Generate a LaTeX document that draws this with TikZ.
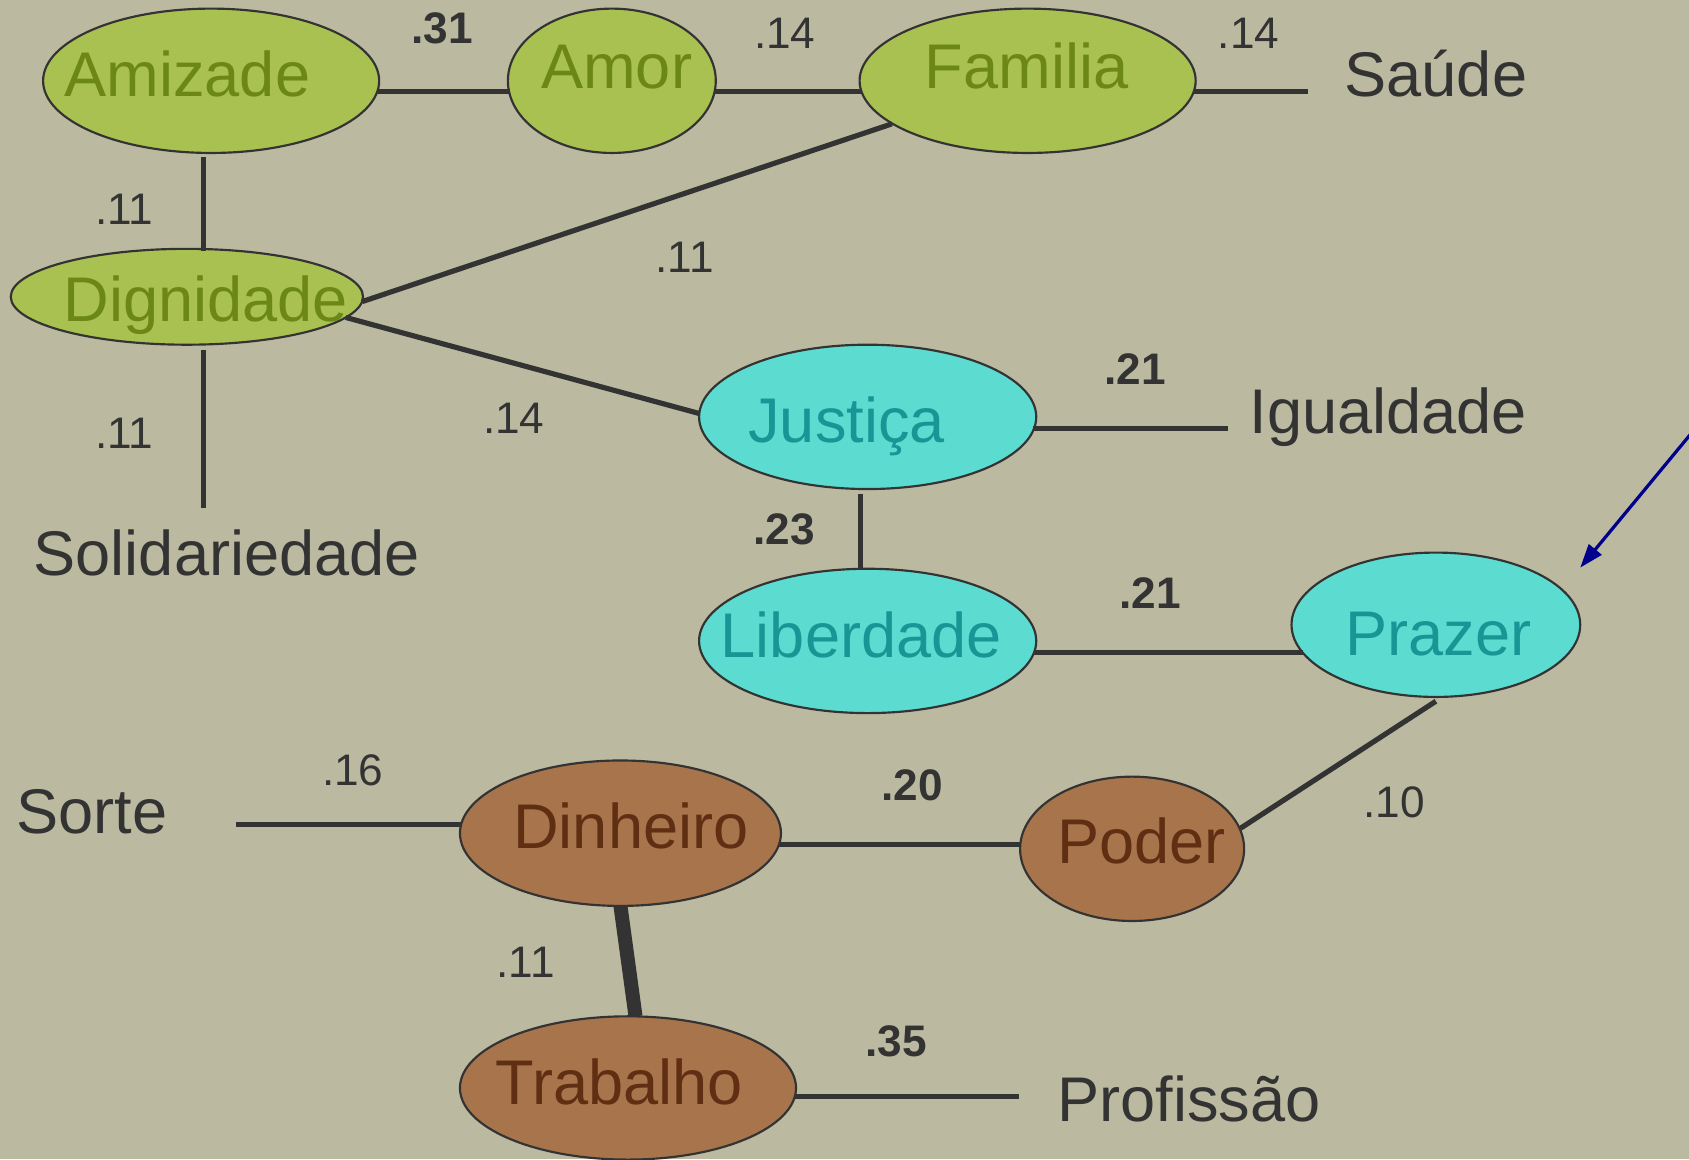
\documentclass[tikz,border=0pt]{standalone}
\usepackage{fontspec}
\setmainfont{Liberation Sans}
\usetikzlibrary{shapes.geometric,calc,arrows.meta}
\definecolor{bgc}{RGB}{187,185,159}
\definecolor{gfill}{RGB}{168,193,80}
\definecolor{gtext}{RGB}{107,135,24}
\definecolor{cfill}{RGB}{92,220,208}
\definecolor{ctext}{RGB}{24,150,150}
\definecolor{bfill}{RGB}{168,116,76}
\definecolor{btext}{RGB}{96,46,18}
\definecolor{ink}{RGB}{51,51,51}
\definecolor{arrowc}{RGB}{0,0,140}
\begin{document}
\begin{tikzpicture}[x=0.5pt,y=-0.5pt,
  ell/.style={ellipse,draw=ink,line width=1pt,inner sep=0pt,outer sep=0pt},
  gnode/.style={ell,fill=gfill},
  cnode/.style={ell,fill=cfill},
  bnode/.style={ell,fill=bfill},
  nt/.style={anchor=base,inner sep=0pt,font=\fontsize{29.3}{34}\selectfont},
  gt/.style={nt,text=gtext},
  ct/.style={nt,text=ctext},
  bt/.style={nt,text=btext},
  kt/.style={nt,text=ink},
  lab/.style={anchor=base,inner sep=0pt,text=ink,font=\fontsize{20.5}{24}\selectfont},
  blab/.style={anchor=base,inner sep=0pt,text=ink,font=\fontsize{20.5}{24}\selectfont\bfseries},
  conn/.style={draw=ink,line width=2.4pt},
]
\useasboundingbox[fill=bgc] (0,0) rectangle (1568,1076);

% ellipses
\node[gnode,minimum width=156pt,minimum height=67pt] (amizade) at (196,75) {};
\node[gnode,minimum width=96.5pt,minimum height=67pt] (amor) at (568,75) {};
\node[gnode,minimum width=156pt,minimum height=67pt] (familia) at (954,75) {};
\node[gnode,minimum width=163.5pt,minimum height=44.5pt] (dignidade) at (173.5,275.5) {};
\node[cnode,minimum width=156.5pt,minimum height=67pt] (justica) at (805.5,387) {};
\node[cnode,minimum width=156.5pt,minimum height=67pt] (liberdade) at (805.5,595) {};
\node[cnode,minimum width=134pt,minimum height=67pt] (prazer) at (1333,580) {};
\node[bnode,minimum width=149pt,minimum height=67.5pt] (dinheiro) at (576,773.5) {};
\node[bnode,minimum width=104pt,minimum height=67pt] (poder) at (1051,788) {};
\node[bnode,minimum width=156pt,minimum height=66.5pt] (trabalho) at (583,1010) {};

% node texts
\node[gt] (tamizade) at (174,90) {Amizade};
\node[gt] (tamor) at (572.5,82.4) {Amor};
\node[gt] (tfamilia) at (953,82.4) {Familia};
\node[gt] (tdignidade) at (191,298) {Dignidade};
\node[ct] (tjustica) at (786,410.5) {Justiça};
\node[ct] (tliberdade) at (799.5,610.4) {Liberdade};
\node[ct] (tprazer) at (1335.5,608.6) {Prazer};
\node[bt] (tdinheiro) at (585.7,787.7) {Dinheiro};
\node[bt] (tpoder) at (1059.8,802) {Poder};
\node[bt] (ttrabalho) at (574.8,1025) {Trabalho};

% free texts
\node[kt] (saude) at (1333,90) {Saúde};
\node[kt] (igualdade) at (1289,402.5) {Igualdade};
\node[kt] (solidariedade) at (210.5,534) {Solidariedade};
\node[kt] (sorte) at (85.5,773.5) {Sorte};
\node[kt] (profissao) at (1104,1041) {Profissão};

% connector end points
\coordinate (saudeend) at (1214,85);
\coordinate (solidend) at (189,472);
\coordinate (igualend) at (1140,398);
\coordinate (sorteend) at (219,765.5);
\coordinate (profend) at (946,1018);
\coordinate (arrstart) at (1572,400);
\coordinate (arrtip) at (1467,527);

% connectors
\draw[conn] ($(amizade.center)+(154.3,10)$) -- ($(amor.center)+(-94.9,10)$);
\draw[conn] ($(amor.center)+(94.9,10)$) -- ($(familia.center)+(-154.3,10)$);
\draw[conn] ($(familia.center)+(154.3,10)$) -- (saudeend);
\draw[conn] ($(amizade.south)+(-7,4)$) -- ($(dignidade.north)+(15.5,2)$);
\draw[conn] ($(dignidade.center)+(162.7,4.5)$) -- ($(familia.center)+(-126,40)$);
\draw[conn] ($(dignidade.center)+(147.5,19.2)$) -- ($(justica.center)+(-155.9,-3)$);
\draw[conn] ($(dignidade.south)+(15.5,5)$) -- (solidend);
\draw[conn] ($(justica.center)+(153.9,11)$) -- (igualend);
\draw[conn] ($(justica.south)+(-7,4.5)$) -- ($(liberdade.north)+(-7,1)$);
\draw[conn] ($(liberdade.center)+(154,10.8)$) -- ($(prazer.center)+(-123.7,25.8)$);
\draw[conn] ($(prazer.south)+(0,4)$) -- ($(poder.center)+(100.5,-19)$);
\draw[conn] (sorteend) -- ($(dinheiro.center)+(-148,-8)$);
\draw[conn] ($(dinheiro.center)+(147.2,10.5)$) -- ($(poder.center)+(-103.8,-4)$);
\draw[conn,line width=6.5pt] (dinheiro.south) -- ($(trabalho.north)+(7,0)$);
\draw[conn] ($(trabalho.center)+(154.9,8)$) -- (profend);
\draw[arrowc,line width=1.5pt,-{Triangle[length=11pt,width=7.5pt]}] (arrstart) -- (arrtip);

% labels
\node[blab] (l1) at (410.5,40) {.31};
\node[lab] (l2) at (728.5,45) {.14};
\node[lab] (l3) at (1159,45) {.14};
\node[lab] (l4) at (115.5,208) {.11};
\node[lab] (l5) at (635.5,253) {.11};
\node[lab] (l6) at (477,402) {.14};
\node[lab] (l7) at (115.5,416) {.11};
\node[blab] (l8) at (1054,357) {.21};
\node[blab] (l9) at (728,505.7) {.23};
\node[blab] (l10) at (1067.5,565) {.21};
\node[lab] (l11) at (327.5,729) {.16};
\node[blab] (l12) at (847,743) {.20};
\node[lab] (l13) at (1294,758.5) {.10};
\node[lab] (l14) at (488,907.6) {.11};
\node[blab] (l15) at (832,981) {.35};
\end{tikzpicture}
\end{document}
